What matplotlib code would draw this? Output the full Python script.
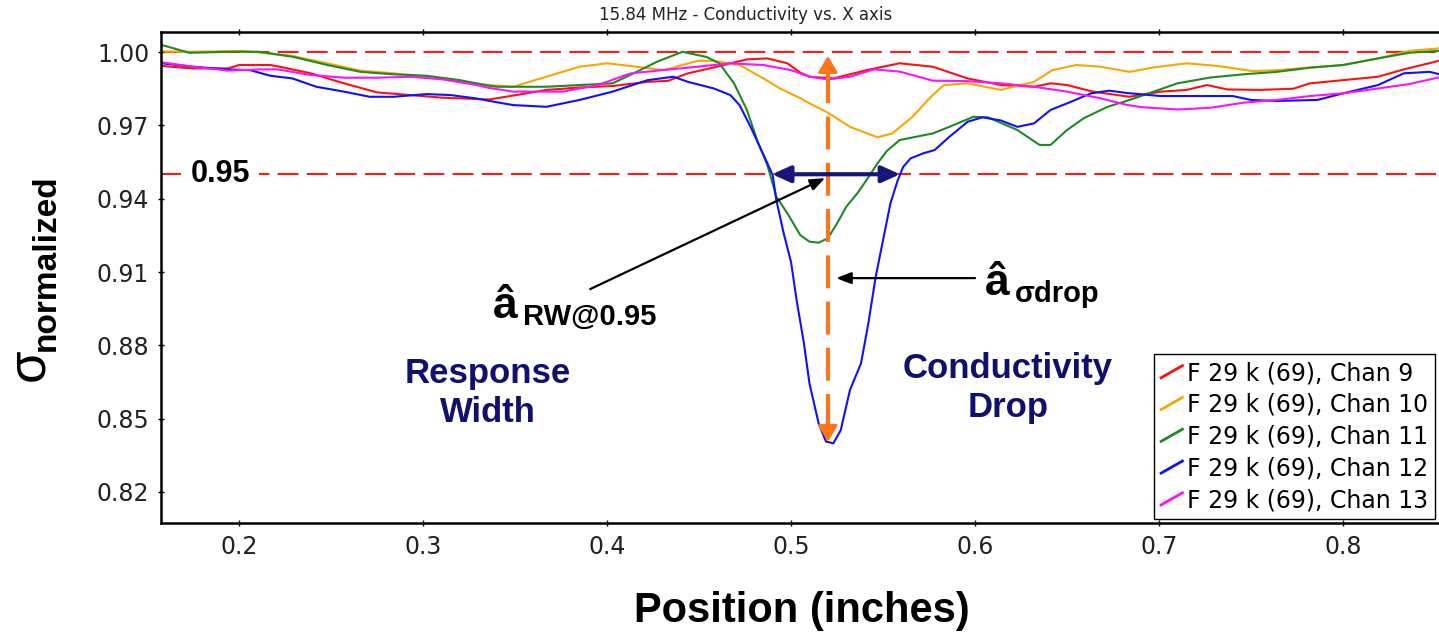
import numpy as np
import matplotlib
matplotlib.use("Agg")
import matplotlib.pyplot as plt
from matplotlib.lines import Line2D
from matplotlib.legend_handler import HandlerBase

## data (position in inches, normalized conductivity)
chan9_x = [0.158, 0.175, 0.194, 0.200, 0.217, 0.222, 0.239, 0.257, 0.275, 0.293, 0.311, 0.329,
           0.336, 0.349, 0.367, 0.385, 0.403, 0.422, 0.433, 0.444, 0.458, 0.476, 0.487, 0.498,
           0.505, 0.510, 0.523, 0.541, 0.559, 0.577, 0.596, 0.614, 0.632, 0.641, 0.650, 0.664,
           0.684, 0.701, 0.715, 0.726, 0.737, 0.755, 0.773, 0.782, 0.800, 0.819, 0.833, 0.852]
chan9_y = [0.9943, 0.9933, 0.9933, 0.9947, 0.9947, 0.9940, 0.9913, 0.9872, 0.9835, 0.9824, 0.9813, 0.9808,
           0.9806, 0.9822, 0.9845, 0.9855, 0.9861, 0.9878, 0.9882, 0.9913, 0.9937, 0.9970, 0.9974, 0.9954,
           0.9916, 0.9899, 0.9892, 0.9926, 0.9954, 0.9940, 0.9892, 0.9865, 0.9858, 0.9872, 0.9865, 0.9838,
           0.9817, 0.9838, 0.9845, 0.9865, 0.9847, 0.9845, 0.9850, 0.9872, 0.9885, 0.9899, 0.9929, 0.9964]

chan10_x = [0.158, 0.175, 0.202, 0.229, 0.248, 0.266, 0.284, 0.302, 0.320, 0.336, 0.349, 0.367,
            0.385, 0.400, 0.416, 0.431, 0.449, 0.458, 0.472, 0.485, 0.494, 0.505, 0.510, 0.520,
            0.532, 0.547, 0.555, 0.566, 0.576, 0.583, 0.596, 0.614, 0.632, 0.642, 0.655, 0.668,
            0.684, 0.697, 0.715, 0.732, 0.751, 0.764, 0.782, 0.800, 0.819, 0.836, 0.852]
chan10_y = [1.0003, 1.0001, 1.0005, 0.9984, 0.9954, 0.9924, 0.9913, 0.9899, 0.9878, 0.9865, 0.9858, 0.9899,
            0.9940, 0.9954, 0.9940, 0.9926, 0.9964, 0.9964, 0.9947, 0.9892, 0.9851, 0.9811, 0.9790, 0.9752,
            0.9694, 0.9651, 0.9667, 0.9735, 0.9817, 0.9865, 0.9872, 0.9845, 0.9878, 0.9926, 0.9947, 0.9940,
            0.9919, 0.9937, 0.9954, 0.9943, 0.9922, 0.9926, 0.9937, 0.9947, 0.9974, 1.0005, 1.0015]

chan11_x = [0.158, 0.173, 0.194, 0.211, 0.229, 0.248, 0.266, 0.284, 0.302, 0.320, 0.336, 0.340,
            0.367, 0.385, 0.403, 0.418, 0.427, 0.441, 0.454, 0.461, 0.469, 0.476, 0.482, 0.487,
            0.492, 0.498, 0.505, 0.510, 0.515, 0.520, 0.525, 0.530, 0.536, 0.541, 0.547, 0.552,
            0.559, 0.577, 0.586, 0.599, 0.607, 0.623, 0.635, 0.641, 0.650, 0.659, 0.672, 0.684,
            0.697, 0.710, 0.728, 0.746, 0.764, 0.782, 0.800, 0.819, 0.836, 0.852]
chan11_y = [1.0029, 0.9997, 1.0001, 1.0001, 0.9981, 0.9947, 0.9919, 0.9909, 0.9903, 0.9885, 0.9862, 0.9858,
            0.9858, 0.9865, 0.9872, 0.9926, 0.9960, 1.0001, 0.9980, 0.9954, 0.9872, 0.9763, 0.9630, 0.9540,
            0.9408, 0.9340, 0.9251, 0.9224, 0.9220, 0.9238, 0.9299, 0.9367, 0.9422, 0.9476, 0.9545, 0.9595,
            0.9640, 0.9667, 0.9694, 0.9735, 0.9733, 0.9681, 0.9620, 0.9620, 0.9681, 0.9729, 0.9776, 0.9804,
            0.9838, 0.9872, 0.9896, 0.9909, 0.9919, 0.9936, 0.9947, 0.9974, 0.9997, 1.0005]

chan12_x = [0.158, 0.175, 0.194, 0.206, 0.217, 0.229, 0.242, 0.257, 0.271, 0.284, 0.302, 0.315,
            0.329, 0.336, 0.349, 0.367, 0.385, 0.403, 0.422, 0.436, 0.444, 0.458, 0.467, 0.472,
            0.478, 0.485, 0.490, 0.492, 0.496, 0.500, 0.503, 0.507, 0.510, 0.515, 0.519, 0.523,
            0.527, 0.532, 0.538, 0.542, 0.546, 0.550, 0.554, 0.558, 0.561, 0.565, 0.572, 0.578,
            0.586, 0.596, 0.604, 0.614, 0.623, 0.632, 0.641, 0.650, 0.663, 0.673, 0.683, 0.701,
            0.740, 0.750, 0.764, 0.786, 0.800, 0.819, 0.833, 0.847, 0.852]
chan12_y = [0.9954, 0.9940, 0.9929, 0.9926, 0.9903, 0.9892, 0.9858, 0.9838, 0.9817, 0.9817, 0.9828, 0.9824,
            0.9810, 0.9800, 0.9783, 0.9776, 0.9804, 0.9838, 0.9885, 0.9899, 0.9878, 0.9851, 0.9824, 0.9783,
            0.9694, 0.9580, 0.9497, 0.9394, 0.9258, 0.9140, 0.8985, 0.8808, 0.8644, 0.8480, 0.8406, 0.8399,
            0.8453, 0.8617, 0.8726, 0.8890, 0.9081, 0.9231, 0.9381, 0.9476, 0.9531, 0.9565, 0.9586, 0.9599,
            0.9653, 0.9715, 0.9733, 0.9720, 0.9694, 0.9708, 0.9763, 0.9790, 0.9831, 0.9842, 0.9832, 0.9820,
            0.9820, 0.9804, 0.9800, 0.9804, 0.9831, 0.9865, 0.9913, 0.9919, 0.9910]

chan13_x = [0.158, 0.175, 0.194, 0.211, 0.221, 0.239, 0.257, 0.275, 0.293, 0.311, 0.329, 0.336,
            0.349, 0.376, 0.395, 0.413, 0.430, 0.449, 0.467, 0.485, 0.500, 0.510, 0.520, 0.532,
            0.545, 0.559, 0.577, 0.596, 0.614, 0.632, 0.650, 0.668, 0.683, 0.691, 0.710, 0.728,
            0.746, 0.764, 0.782, 0.800, 0.819, 0.836, 0.852]
chan13_y = [0.9958, 0.9940, 0.9924, 0.9929, 0.9929, 0.9906, 0.9895, 0.9895, 0.9899, 0.9888, 0.9865, 0.9853,
            0.9838, 0.9838, 0.9865, 0.9913, 0.9926, 0.9940, 0.9954, 0.9947, 0.9926, 0.9899, 0.9888, 0.9899,
            0.9929, 0.9920, 0.9883, 0.9881, 0.9872, 0.9858, 0.9838, 0.9811, 0.9783, 0.9774, 0.9765, 0.9772,
            0.9793, 0.9804, 0.9820, 0.9831, 0.9851, 0.9869, 0.9896]

labels = ["F 29 k (69), Chan 9", "F 29 k (69), Chan 10", "F 29 k (69), Chan 11",
          "F 29 k (69), Chan 12", "F 29 k (69), Chan 13"]
colors = ["#ff1010", "#f7a800", "#1f8a24", "#1010ff", "#ff10ff"]

threshold = 0.95
rw_left, rw_right = 0.4897, 0.5592   # response width at 0.95
drop_x, drop_top, drop_min = 0.520, 0.9984, 0.8405


class SlashHandler(HandlerBase):
    ## legend handle drawn as a short slanted stroke
    def create_artists(self, legend, orig_handle, xdescent, ydescent,
                       width, height, fontsize, trans):
        x0, y0 = -xdescent, -ydescent
        line = Line2D([x0, x0 + width], [y0 + 0.05 * height, y0 + 0.95 * height],
                      color=orig_handle.get_color(), lw=2, transform=trans)
        return [line]


fig = plt.figure(figsize=(14.39, 6.34), dpi=100)
ax = fig.add_axes([0.1119, 0.1751, 0.8923, 0.7744])

series = [(chan9_x, chan9_y), (chan10_x, chan10_y), (chan11_x, chan11_y),
          (chan12_x, chan12_y), (chan13_x, chan13_y)]
handles = []
for (xs, ys), c, lab in zip(series, colors, labels):
    h, = ax.plot(xs, ys, color=c, lw=1.5, label=lab)
    handles.append(h)

ax.set_xlim(0.1576, 0.8554)
ax.set_ylim(0.8073, 1.0082)
ax.set_xticks([0.2, 0.3, 0.4, 0.5, 0.6, 0.7, 0.8])
ax.set_yticks([0.82, 0.85, 0.88, 0.91, 0.94, 0.97, 1.00])
ax.set_yticklabels(["0.82", "0.85", "0.88", "0.91", "0.94", "0.97", "1.00"])
ax.tick_params(labelsize=17, length=5, width=1, direction="inout", colors="black",
               labelcolor="#222222", top=True, pad=6)
for s in ax.spines.values():
    s.set_linewidth(1.8)

## threshold lines
ax.axhline(1.0, color="#ff1a1a", lw=1.5, ls=(0, (10, 4)), zorder=1)
ax.axhline(threshold, color="#ff1a1a", lw=1.5, ls=(0, (10, 4)), zorder=1)
ax.text(0.1897, threshold, "0.95", fontsize=22, fontweight="bold", family="Liberation Sans",
        ha="center", va="center", zorder=3,
        bbox=dict(boxstyle="square,pad=0.3", fc="white", ec="none"))

## conductivity drop (orange dashed double arrow)
ax.plot([drop_x, drop_x], [drop_min + 0.006, drop_top - 0.005], color="#ff7418", lw=3,
        ls=(0, (7.9, 3.2)), zorder=4)
for tip, tail in [((drop_x, drop_top), (drop_x, drop_top - 0.006)),
                  ((drop_x, drop_min), (drop_x, drop_min + 0.006))]:
    ax.annotate("", xy=tip, xytext=tail,
                arrowprops=dict(arrowstyle="-|>,head_length=1.0,head_width=0.6",
                                color="#ff7418", lw=2, shrinkA=0, shrinkB=0), zorder=4)

## response width (navy double arrow)
ax.annotate("", xy=(rw_left, threshold), xytext=(rw_right, threshold),
            arrowprops=dict(arrowstyle="<|-|>,head_length=1.1,head_width=0.5",
                            color="#16167a", lw=3, shrinkA=0, shrinkB=0), zorder=5)

## labels with pointer arrows
ax.annotate("", xy=(0.5185, 0.9484), xytext=(0.3908, 0.9030),
            arrowprops=dict(arrowstyle="-|>,head_length=0.9,head_width=0.35",
                            color="black", lw=1.6, shrinkA=0, shrinkB=0), zorder=6)
ax.annotate("", xy=(0.5245, 0.9075), xytext=(0.6000, 0.9075),
            arrowprops=dict(arrowstyle="-|>,head_length=0.9,head_width=0.35",
                            color="black", lw=1.6, shrinkA=0, shrinkB=0), zorder=6)

ax.text(0.3380, 0.8912, "â", fontsize=32, fontweight="bold", family="Liberation Sans",
        ha="left", va="baseline")
ax.text(0.3545, 0.8885, "RW@0.95", fontsize=21, fontweight="bold", family="Liberation Sans",
        ha="left", va="baseline")
ax.text(0.6054, 0.9006, "â", fontsize=32, fontweight="bold", family="Liberation Sans",
        ha="left", va="baseline")
ax.text(0.6215, 0.8978, "σdrop", fontsize=21, fontweight="bold", family="Liberation Sans",
        ha="left", va="baseline")

ax.text(0.3353, 0.8605, "Response\nWidth", fontsize=25, fontweight="bold", color="#10106e",
        family="Liberation Sans", ha="center", va="center", linespacing=1.2)
ax.text(0.6179, 0.8625, "Conductivity\nDrop", fontsize=25, fontweight="bold", color="#10106e",
        family="Liberation Sans", ha="center", va="center", linespacing=1.2)

## legend with slanted handles
leg = ax.legend(handles=handles, labels=labels, handler_map={Line2D: SlashHandler()},
                loc="upper left", bbox_to_anchor=(0.7734, 0.3442), borderaxespad=0,
                fontsize=17, frameon=True, fancybox=False, handlelength=0.9,
                handleheight=0.5, handletextpad=0.2, labelspacing=0.33, borderpad=0.3)
leg.get_frame().set_edgecolor("black")
leg.get_frame().set_linewidth(1.0)
leg.get_frame().set_alpha(1)

## titles and axis labels
fig.text(0.518, 0.976, "15.84 MHz - Conductivity vs. X axis", fontsize=12, color="#222222",
         ha="center", va="center")
fig.text(0.557, 0.037, "Position (inches)", fontsize=30, fontweight="bold",
         family="Liberation Sans", ha="center", va="center")
fig.text(0.020, 0.425, "σ", fontsize=38, family="Liberation Sans", rotation=90,
         ha="center", va="center")
fig.text(0.032, 0.585, "normalized", fontsize=24, fontweight="bold", family="Liberation Sans",
         rotation=90, ha="center", va="center")

fig.savefig("out.png", dpi=100)
